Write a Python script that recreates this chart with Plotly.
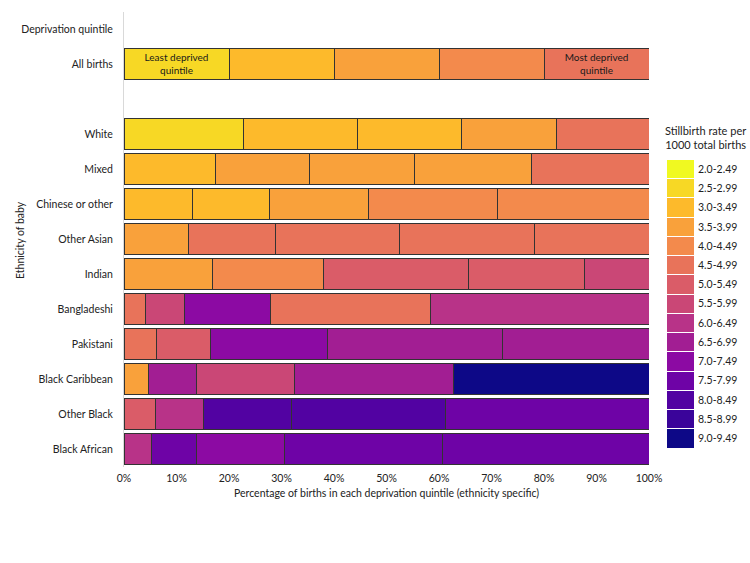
import plotly.graph_objects as go

# ---------------- data ----------------
rows = ["Deprivation quintile", "All births", " ", "White", "Mixed", "Chinese or other",
        "Other Asian", "Indian", "Bangladeshi", "Pakistani", "Black Caribbean",
        "Other Black", "Black African"]

# percentage of births in each deprivation quintile (None = label-only row)
q1 = [None, 20.0, None, 22.7, 17.4, 13.1, 12.3, 16.8, 4.0, 6.2, 4.7, 6.0, 5.2]
q2 = [None, 20.0, None, 21.7, 17.9, 14.6, 16.5, 21.2, 7.5, 10.2, 9.2, 9.1, 8.7]
q3 = [None, 20.0, None, 19.9, 20.1, 18.9, 23.6, 27.6, 16.4, 22.3, 18.5, 16.8, 16.6]
q4 = [None, 20.0, None, 18.0, 22.2, 24.6, 25.8, 22.1, 30.4, 33.4, 30.3, 29.4, 30.2]
q5 = [None, 20.0, None, 17.7, 22.4, 28.8, 21.8, 12.3, 41.7, 27.9, 37.3, 38.7, 39.3]

# stillbirth-rate class for each segment
r1 = [None, "2.5-2.99", None, "2.5-2.99", "3.0-3.49", "3.0-3.49", "3.5-3.99", "3.5-3.99",
      "4.5-4.99", "4.5-4.99", "3.5-3.99", "5.0-5.49", "6.0-6.49"]
r2 = [None, "3.0-3.49", None, "3.0-3.49", "3.5-3.99", "3.0-3.49", "4.5-4.99", "4.0-4.49",
      "5.5-5.99", "5.0-5.49", "6.5-6.99", "6.0-6.49", "7.5-7.99"]
r3 = [None, "3.5-3.99", None, "3.0-3.49", "3.5-3.99", "3.5-3.99", "4.5-4.99", "5.0-5.49",
      "7.0-7.49", "7.0-7.49", "5.5-5.99", "8.0-8.49", "7.0-7.49"]
r4 = [None, "4.0-4.49", None, "3.5-3.99", "3.5-3.99", "4.0-4.49", "4.5-4.99", "5.0-5.49",
      "4.5-4.99", "6.5-6.99", "6.5-6.99", "8.0-8.49", "7.5-7.99"]
r5 = [None, "4.5-4.99", None, "4.5-4.99", "4.5-4.99", "4.0-4.49", "4.5-4.99", "5.5-5.99",
      "6.0-6.49", "6.5-6.99", "9.0-9.49", "7.5-7.99", "7.5-7.99"]

rate_classes = ["2.0-2.49", "2.5-2.99", "3.0-3.49", "3.5-3.99", "4.0-4.49", "4.5-4.99",
                "5.0-5.49", "5.5-5.99", "6.0-6.49", "6.5-6.99", "7.0-7.49", "7.5-7.99",
                "8.0-8.49", "8.5-8.99", "9.0-9.49"]
class_colors = ["#f0f921", "#f7d825", "#fdba2b", "#f9a13b", "#f38a4c", "#e8735a",
                "#da5c68", "#ca4776", "#b83388", "#a21e93", "#8c0aa3", "#6e03a6",
                "#5202a2", "#3a049a", "#0d0887"]

bar_text_q1 = ["", "Least deprived<br>quintile"] + [""] * 11
bar_text_q5 = ["", "Most deprived<br>quintile"] + [""] * 11

x_ticks = [0, 10, 20, 30, 40, 50, 60, 70, 80, 90, 100]

# ---------------- figure ----------------
W, H = 750, 563
FONT = "Lato"
FS = 10.5
TXT = "#222222"
cmap = dict(zip(rate_classes, class_colors))


def px(x):
    return x / W


def py(y):
    return 1 - y / H


fig = go.Figure()
for vals, rates, txt in [(q1, r1, bar_text_q1), (q2, r2, None), (q3, r3, None),
                         (q4, r4, None), (q5, r5, bar_text_q5)]:
    fig.add_trace(go.Bar(
        x=vals, y=rows, orientation="h",
        marker=dict(color=[cmap.get(r, "#ffffff") if r else "#ffffff" for r in rates],
                    line=dict(color="#333333", width=1)),
        text=txt, textposition="inside" if txt else None,
        insidetextanchor="middle", textangle=0, constraintext="none",
        textfont=dict(family=FONT, size=10, color="#1a1a1a"),
        showlegend=False, hoverinfo="skip",
        xaxis="x", yaxis="y",
    ))

# colour key drawn as a stacked bar on its own small axis
for cls, col in zip(rate_classes, class_colors):
    fig.add_trace(go.Bar(
        x=[0], y=[1], width=1, marker=dict(color=col, line=dict(color="#ffffff", width=1)),
        showlegend=False, hoverinfo="skip", xaxis="x2", yaxis="y2",
    ))

x0, x1 = px(124), px(649)
fig.update_layout(
    width=W, height=H, margin=dict(l=0, r=0, t=0, b=0, autoexpand=False),
    paper_bgcolor="white", plot_bgcolor="white",
    barmode="stack", bargap=0.09,
    font=dict(family=FONT, size=FS, color=TXT),
    xaxis=dict(domain=[x0, x1], range=[0, 100], tickvals=x_ticks, automargin=False,
               ticktext=[f"{v}%" for v in x_ticks], showgrid=False, zeroline=False,
               showline=False, ticks="", ticklabelstandoff=4,
               tickfont=dict(family=FONT, size=FS, color=TXT), fixedrange=True),
    yaxis=dict(domain=[py(466.5), py(11.5)], categoryorder="array", automargin=False,
               categoryarray=rows, autorange="reversed", showgrid=False, zeroline=False,
               showline=True, linecolor="#d9d9d9", linewidth=1, ticks="",
               ticklabelstandoff=8, tickfont=dict(family=FONT, size=FS, color=TXT)),
    xaxis2=dict(domain=[px(666), px(694)], range=[-0.5, 0.5], visible=False,
                anchor="y2", automargin=False),
    yaxis2=dict(domain=[py(448), py(159.5)], range=[15, 0], anchor="x2",
                side="right", showgrid=False, zeroline=False, showline=False, ticks="",
                automargin=False,
                tickvals=[i + 0.5 for i in range(len(rate_classes))],
                ticktext=rate_classes, ticklabelstandoff=3,
                tickfont=dict(family=FONT, size=FS, color=TXT)),
    annotations=[
        dict(text="Percentage of births in each deprivation quintile (ethnicity specific)",
             x=(x0 + x1) / 2, y=py(493), xref="paper", yref="paper",
             showarrow=False, xanchor="center", yanchor="middle",
             font=dict(family=FONT, size=FS, color=TXT)),
        dict(text="Ethnicity of baby", x=px(20), y=py(240), xref="paper", yref="paper",
             showarrow=False, textangle=-90, xanchor="center", yanchor="middle",
             font=dict(family=FONT, size=FS, color=TXT)),
        dict(text="Stillbirth rate per<br>1000 total births", x=px(705), y=py(137),
             xref="paper", yref="paper", showarrow=False, xanchor="center",
             yanchor="middle", align="center",
             font=dict(family=FONT, size=FS + 0.5, color=TXT)),
    ],
)

# remove the browser's default 8px page margin so the 750x563 figure fills the window
fig.write_html("out.html",
               config={"displayModeBar": False},
               post_script="document.body.style.margin='0';"
                           "document.body.style.overflow='hidden';")
